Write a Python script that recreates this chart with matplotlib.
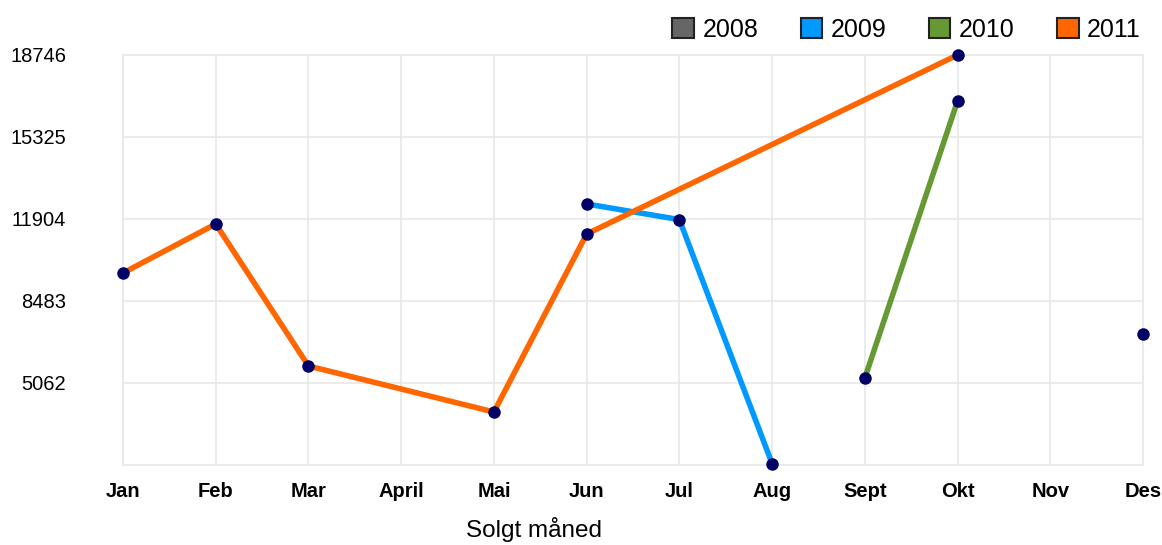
import matplotlib
matplotlib.use("Agg")
import matplotlib.pyplot as plt
from matplotlib.patches import Patch

months = ["Jan", "Feb", "Mar", "April", "Mai", "Jun", "Jul", "Aug", "Sept", "Okt", "Nov", "Des"]
years = ["2008", "2009", "2010", "2011"]
colors = ["#666666", "#0099ff", "#669933", "#ff6600"]

v2008 = [None, None, None, None, None, None, None, None, None, None, None, 7106]
v2009 = [None, None, None, None, None, 12530, 11880, 1700, None, None, None, None]
v2010 = [None, None, None, None, None, None, None, None, 5270, 16827, None, None]
v2011 = [9651, 11695, 5771, None, 3852, 11278, None, None, None, 18746, None, None]
series = [v2008, v2009, v2010, v2011]

yticks = [5062, 8483, 11904, 15325, 18746]
ymin = 1641

plt.rcParams['font.family'] = ['Liberation Sans', 'DejaVu Sans']

fig = plt.figure(figsize=(11.62, 5.45), dpi=100)
ax = fig.add_axes([123/1162, 80/545, 1020/1162, 410/545])

for vals, c in zip(series, colors):
    xs = [i for i, v in enumerate(vals) if v is not None]
    ys = [v for v in vals if v is not None]
    ax.plot(xs, ys, color=c, lw=4, solid_capstyle='round', zorder=3)
for vals, c in zip(series, colors):
    xs = [i for i, v in enumerate(vals) if v is not None]
    ys = [v for v in vals if v is not None]
    ax.plot(xs, ys, linestyle='none', marker='o', markersize=8,
            markerfacecolor='#000066', markeredgecolor='#000066', zorder=4, clip_on=False)

ax.set_xlim(0, len(months) - 1)
ax.set_ylim(ymin, yticks[-1])
ax.set_xticks(range(len(months)))
ax.set_xticklabels(months, fontsize=14.5, fontweight='bold')
ax.set_yticks(yticks)
ax.set_yticklabels([str(t) for t in yticks], fontsize=14.5)
ax.tick_params(axis='both', length=0)
ax.tick_params(axis='y', pad=41)
ax.tick_params(axis='x', pad=12)
ax.grid(True, color='#e8e8e8', lw=1.2)
ax.set_axisbelow(True)
for s in ax.spines.values():
    s.set_color('#e8e8e8')
    s.set_linewidth(1.2)

ax.set_xlabel("Solgt måned", fontsize=17.5)
ax.xaxis.set_label_coords((534 - 123) / 1020, (465 - 530) / 410)
ax.xaxis.label.set_va('center')

handles = [Patch(facecolor=c, edgecolor='#222222', lw=1.5) for c in colors]
fig.legend(handles, years, loc='center right', bbox_to_anchor=(1141/1162, 1 - 30/545),
           ncol=4, frameon=False, fontsize=18, handlelength=0.85, handleheight=0.85,
           handletextpad=0.35, columnspacing=1.7, borderaxespad=0, borderpad=0)

fig.savefig("out.png", dpi=100)
